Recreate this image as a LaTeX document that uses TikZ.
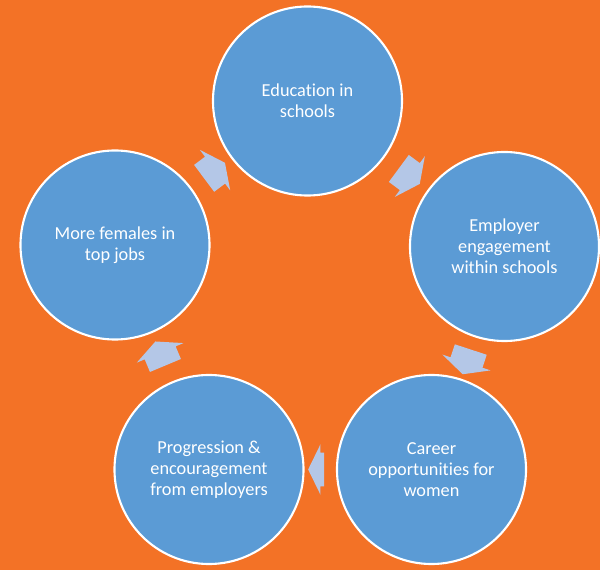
\documentclass[tikz,border=0pt]{standalone}
\usepackage{fontspec}
\setmainfont{Carlito}[Ligatures=NoCommon]
\usetikzlibrary{shapes.arrows}

\definecolor{bgorange}{RGB}{243,114,38}
\definecolor{stageblue}{RGB}{91,155,213}
\definecolor{arrowblue}{RGB}{180,199,231}

\begin{document}
\begin{tikzpicture}[
    x=0.025cm, y=-0.025cm,
    font=\fontsize{13}{15}\selectfont,
    stage/.style={circle, fill=stageblue, draw=white, line width=1.5pt,
        minimum size=4.725cm, inner sep=0pt, align=center, text=white},
    cyclearrow/.style={single arrow, fill=arrowblue, draw=none,
        minimum height=0.65cm, minimum width=1.25cm,
        inner xsep=0pt, inner ysep=0.4125cm,
        single arrow head extend=0.2125cm, single arrow tip angle=128,
        sloped, allow upside down}
]

    % Background
    \fill[bgorange] (0, 0) rectangle (600, 570);
    \useasboundingbox (0, 0) rectangle (600, 570);

    % Stages of the cycle
    \node[stage] (schools) at (307.5, 101) {Education in\\schools};
    \node[stage] (employer) at (504.5, 246.5) {Employer\\engagement\\within schools};
    \node[stage] (career) at (431.5, 469.5) {Career\\opportunities for\\women};
    \node[stage] (progress) at (209, 469.5) {Progression \&\\encouragement\\from employers};
    \node[stage] (topjobs) at (115, 245) {More females in\\top jobs};

    % Arrows (clockwise)
    \path (schools) -- (employer) node[midway, cyclearrow] (a1) {};
    \path (employer) -- (career) node[midway, cyclearrow] (a2) {};
    \path (career) -- (progress) node[midway, cyclearrow, minimum height=0.4cm] (a3) {};
    \path (progress) -- (topjobs) node[midway, cyclearrow] (a4) {};
    \path (topjobs) -- (schools) node[midway, cyclearrow] (a5) {};

\end{tikzpicture}
\end{document}
